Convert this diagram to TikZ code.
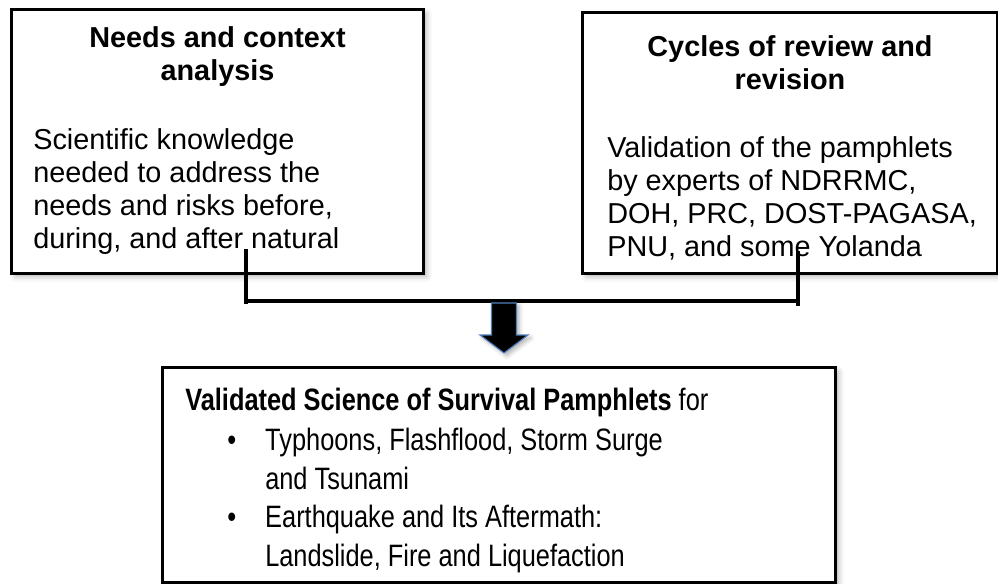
\documentclass[tikz,border=0pt]{standalone}
\usepackage{fontspec}
\setmainfont{Liberation Sans}
\newfontfamily\narrowsans[FakeStretch=0.82]{Liberation Sans}
\usetikzlibrary{calc,shadows.blur}

\definecolor{arrowedge}{RGB}{79,129,189}

\tikzset{
  panel/.style={draw, line width=2.1pt, fill=white, inner sep=0pt,
    blur shadow={shadow xshift=2.5pt, shadow yshift=-2.5pt, shadow blur radius=4pt, shadow opacity=30}},
  headtext/.style={font=\bfseries\fontsize{20.5}{23.5}\selectfont, align=center, inner sep=0pt},
  bodytext/.style={font=\fontsize{20.5}{23.5}\selectfont, align=left, inner sep=0pt},
  listtext/.style={font=\narrowsans\fontsize{22}{27.5}\selectfont, align=left, inner sep=0pt},
  bracket/.style={line width=2.8pt},
}

\begin{document}
\begin{tikzpicture}[x=0.025cm, y=-0.025cm]
  \useasboundingbox (0,0) rectangle (998,584);

  % the two input boxes
  \node [panel, minimum width=10.275cm, minimum height=6.575cm] (needs) at (217.5,141.5) {};
  \node [panel, minimum width=10.35cm, minimum height=6.5cm] (cycles) at (790,143) {};

  \node [headtext, anchor=north] (needstitle) at (217.5,26) {Needs and context\\analysis};
  \node [bodytext, anchor=north west] (needstext) at (33,128) {Scientific knowledge\\needed to address the\\needs and risks before,\\during, and after natural};

  \node [headtext, anchor=north] (cyclestitle) at (790,35) {Cycles of review and\\revision};
  \node [bodytext, anchor=north west] (cyclestext) at (607,136) {Validation of the pamphlets\\by experts of NDRRMC,\\DOH, PRC, DOST-PAGASA,\\PNU, and some Yolanda};

  % bracket joining them
  \coordinate (lt) at (246,249);
  \coordinate (lb) at (246,304);
  \coordinate (rt) at (798,251);
  \coordinate (rb) at (798,306);
  \coordinate (lm) at (246,301);
  \coordinate (rm) at (798,301);
  \draw [bracket] (lt) -- (lb) (rt) -- (rb);
  \draw [bracket] (lm) -- (rm);

  % block arrow down
  \draw [fill=black, draw=arrowedge, line width=0.8pt,
    blur shadow={shadow xshift=2pt, shadow yshift=-2pt, shadow blur radius=3pt, shadow opacity=30}]
    (491.5,303) -- (516.5,303) -- (516.5,335) -- (528,335) -- (504,353) -- (480,335) -- (491.5,335) -- cycle;

  % result box
  \node [panel, minimum width=16.8cm, minimum height=5.35cm] (result) at (499,475) {};
  \node [listtext, anchor=north west] (resulthead) at (185,388) {\textbf{Validated Science of Survival Pamphlets} for};
  \node [listtext, anchor=north west] (resultlist) at (227,423) {%
    \begin{tabular}{@{}p{27pt}@{}l@{}}
      \textbullet & Typhoons, Flashflood, Storm Surge\\
                  & and Tsunami\\
      \textbullet & Earthquake and Its Aftermath:\\
                  & Landslide, Fire and Liquefaction
    \end{tabular}};

\end{tikzpicture}
\end{document}
